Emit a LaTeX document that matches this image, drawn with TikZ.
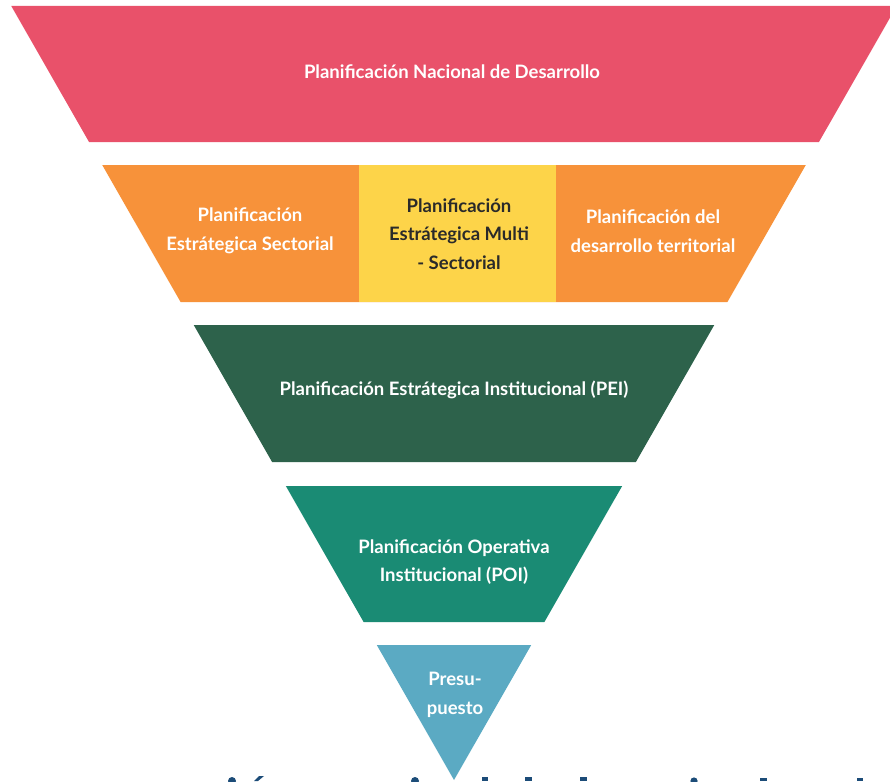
\documentclass[tikz,border=0pt]{standalone}
\usepackage{fontspec}
\setmainfont{Lato}
\definecolor{cRed}{HTML}{E9516A}
\definecolor{cOrange}{HTML}{F7923A}
\definecolor{cYellow}{HTML}{FDD449}
\definecolor{cDark}{HTML}{2D624B}
\definecolor{cTeal}{HTML}{1A8B74}
\definecolor{cBlue}{HTML}{5BAAC3}
\definecolor{cNavy}{HTML}{1C4C78}
\definecolor{cInk}{HTML}{2A2A2A}
\tikzset{
  lbl/.style={font=\fontsize{18.5}{28.5}\selectfont\bfseries, text=white, align=center, inner sep=0pt},
  lbldark/.style={lbl, text=cInk},
}
\begin{document}
\begin{tikzpicture}[x=1pt,y=-1pt]
\useasboundingbox (0,0) rectangle (890,781);
\clip (0,0) rectangle (890,781);
\fill[white] (0,0) rectangle (890,781);
% row 1
\fill[cRed] ({454-(780-6)*0.572},6) -- ({454+(780-6)*0.572},6) -- ({454+(780-142)*0.572},142) -- ({454-(780-142)*0.572},142) -- cycle;
% row 2
\fill[cOrange] ({454-(780-165)*0.572},165) -- ({454+(780-165)*0.572},165) -- ({454+(780-302)*0.572},302) -- ({454-(780-302)*0.572},302) -- cycle;
\fill[cYellow] (359,165) rectangle (556,302);
% row 3
\fill[cDark] ({454-(780-325)*0.572},325) -- ({454+(780-325)*0.572},325) -- ({454+(780-462)*0.572},462) -- ({454-(780-462)*0.572},462) -- cycle;
% row 4
\fill[cTeal] ({454-(780-486)*0.572},486) -- ({454+(780-486)*0.572},486) -- ({454+(780-622)*0.572},622) -- ({454-(780-622)*0.572},622) -- cycle;
% row 5
\fill[cBlue] ({454-(780-645)*0.572},645) -- ({454+(780-645)*0.572},645) -- (454,780) -- cycle;

\node[lbl] (pnd) at (452,72) {Planificación Nacional de Desarrollo};
\node[lbl] (pes) at (250,231) {Planificación\\Estrátegica Sectorial};
\node[lbldark] (pem) at (459,234) {Planificación\\Estrátegica Multi\\- Sectorial};
\node[lbl] (pdt) at (653,231) {Planificación del\\desarrollo territorial};
\node[lbl] (pei) at (454,390) {Planificación Estrátegica Institucional (PEI)};
\node[lbl] (poi) at (454,562) {Planificación Operativa\\Institucional (POI)};
\node[lbl] (pre) at (455,695) {Presu-\\puesto};

% fragments of cut-off title at the bottom edge
\fill[cNavy] (232,781) circle (4);
\fill[cNavy] (254,781) -- (259,776) -- (264,776) -- (258,781) -- cycle;
\fill[cNavy] (415,781) circle (4);
\fill[cNavy] (482,777) rectangle (488,781);
\fill[cNavy] (525,777) rectangle (532,781);
\fill[cNavy] (580,777) rectangle (587,781);
\fill[cNavy] (694,781) circle (3.6);
\fill[cNavy] (760,778) rectangle (767,781);
\fill[cNavy] (857,778) rectangle (863,781);
\end{tikzpicture}
\end{document}
